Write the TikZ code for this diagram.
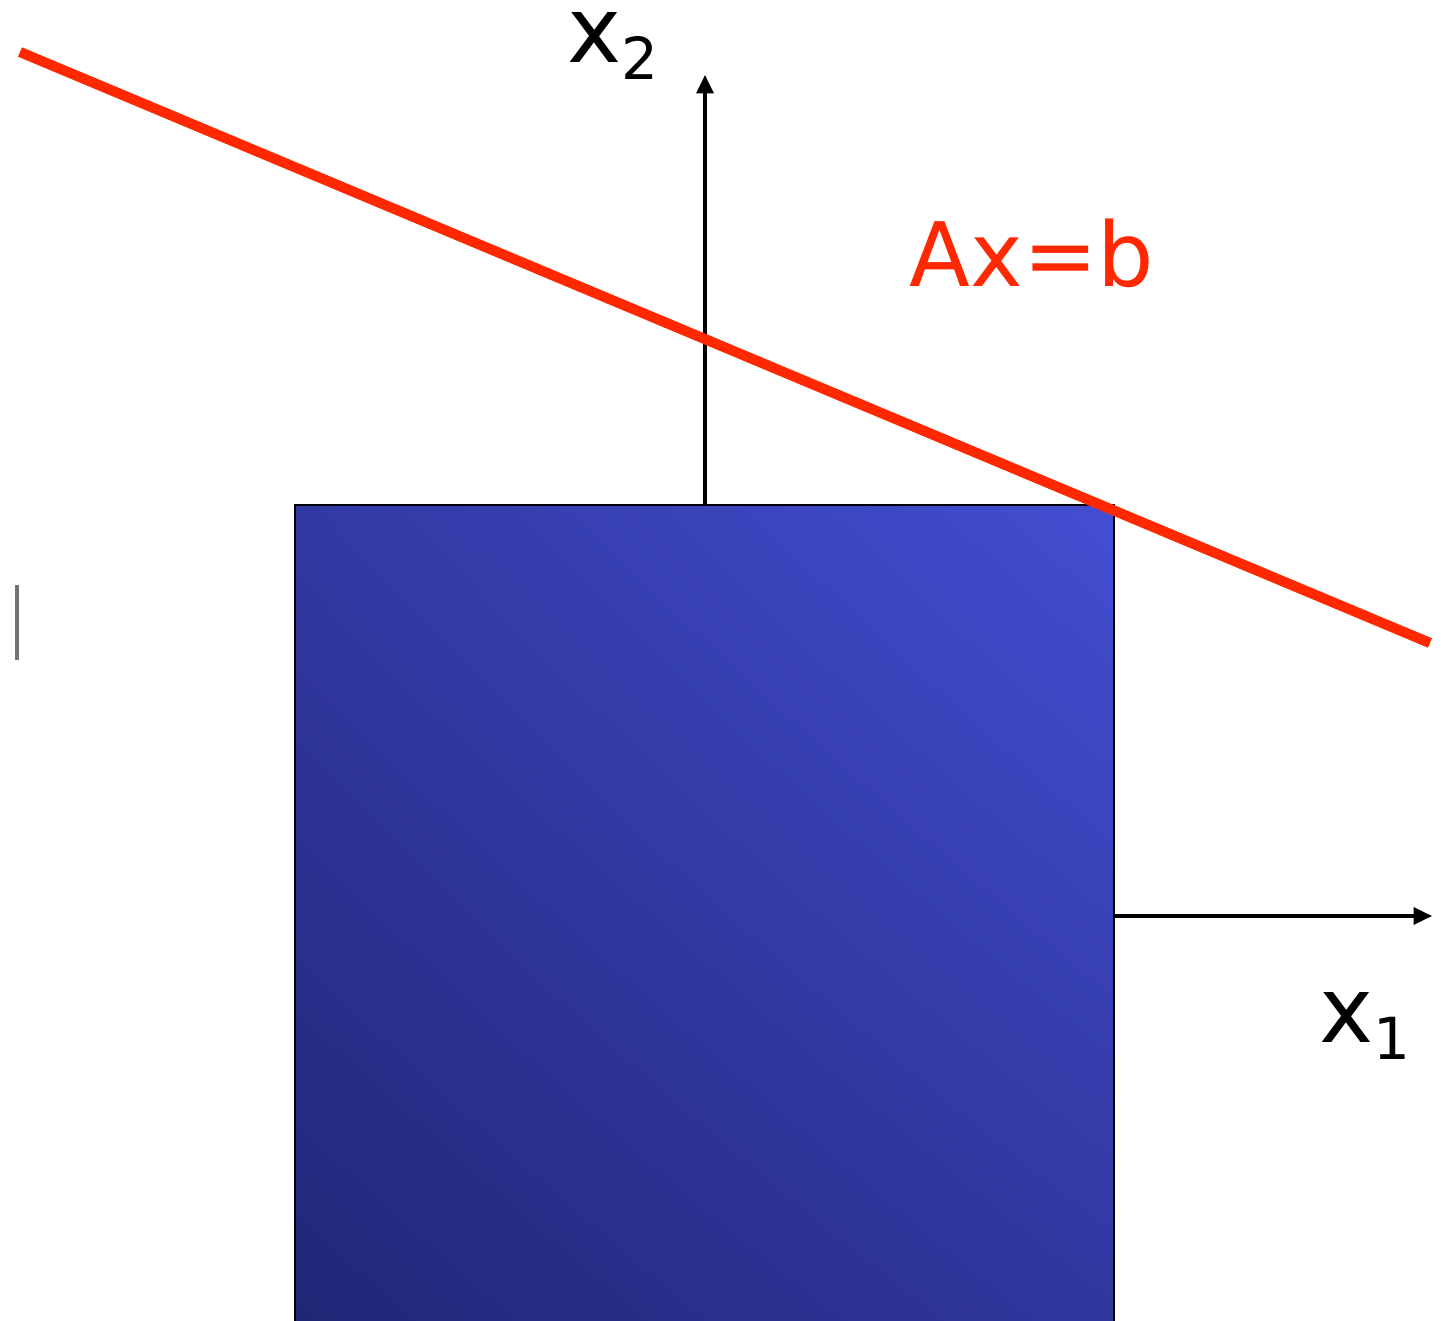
\documentclass[tikz,border=0pt]{standalone}
\usepackage{fontspec}
\setmainfont{DejaVu Sans}
\usetikzlibrary{arrows.meta,shadings}
\definecolor{linered}{RGB}{255,40,0}
\definecolor{boxdark}{RGB}{33,38,118}
\definecolor{boxlight}{RGB}{67,78,210}
\definecolor{boxmidA}{RGB}{50,57,163}
\definecolor{boxmidB}{RGB}{48,55,158}
\newcommand{\subnum}[1]{\raisebox{-5pt}{\fontsize{16.5}{20}\selectfont #1}}
\tikzset{
  axisline/.style={line width=0.9pt,-{Triangle[length=5.2pt,width=4.8pt]}},
  redline/.style={linered,line width=2.9pt},
  lbl/.style={inner sep=0pt,anchor=base west,font=\fontsize{26}{30}\selectfont}
}
\begin{document}
\begin{tikzpicture}[x=0.01cm,y=-0.01cm]
\useasboundingbox (0,0) rectangle (1444,1321);
% coordinates
\coordinate (O) at (705,916);
\coordinate (x2tip) at (705,75);
\coordinate (x1tip) at (1432,916);
\coordinate (Rstart) at (20,52);
\coordinate (Rend) at (1430,643);
% axes
\draw[axisline] (O) -- (x2tip);
\draw[axisline] (O) -- (x1tip);
% box
\shade[lower left=boxdark,upper right=boxlight,upper left=boxmidA,lower right=boxmidB]
  (295,1321) rectangle (1114,505);
\draw[line width=0.5pt,black] (295,1325) -- (295,505) -- (1114,505) -- (1114,1325);
% red line
\draw[redline] (Rstart) -- (Rend);
% labels
\node[lbl] (x2lbl) at (567,62) {x\subnum{2}};
\node[lbl] (x1lbl) at (1319,1042) {x\subnum{1}};
\node[lbl,text=linered,font=\fontsize{25.3}{30}\selectfont] (eq) at (909,287) {Ax=b};
% left edge artifact
\draw[gray!90!black,line width=1.4pt] (17,585) -- (17,660);
\end{tikzpicture}
\end{document}
